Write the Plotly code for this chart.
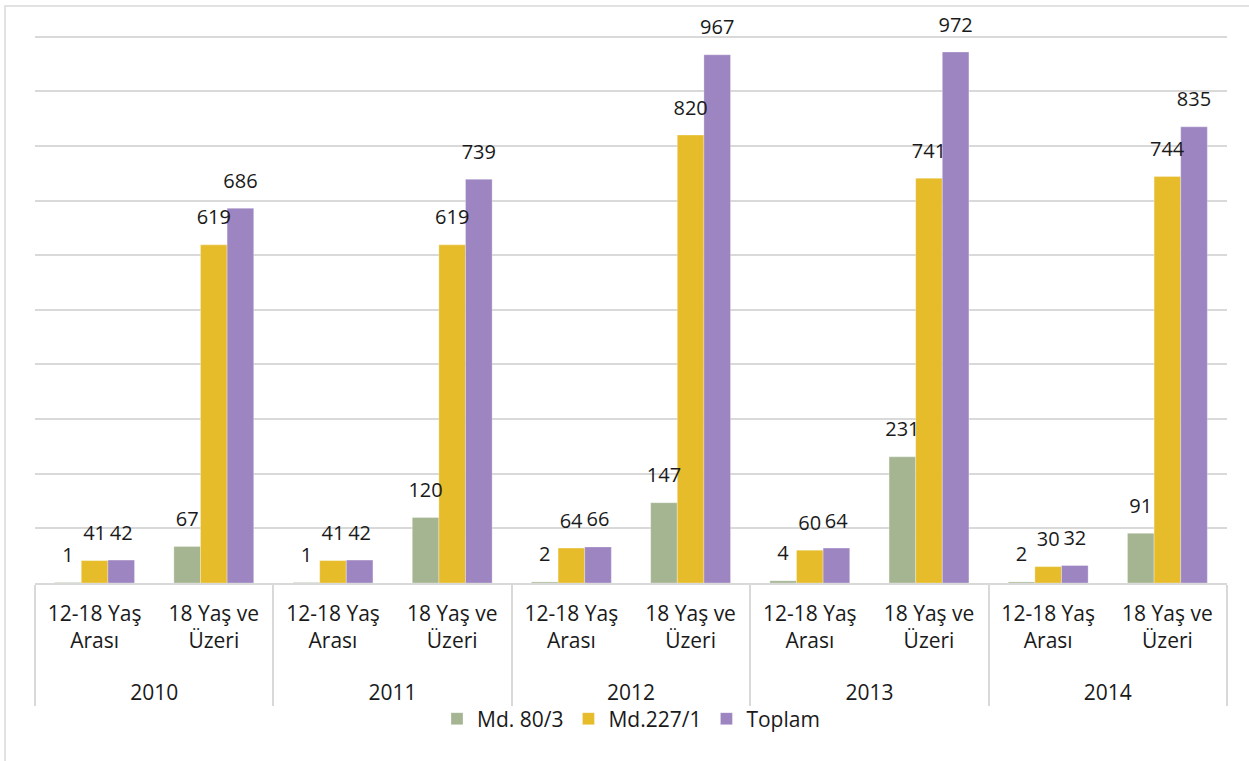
import plotly.graph_objects as go

years = ["2010", "2010", "2011", "2011", "2012", "2012", "2013", "2013", "2014", "2014"]
pad = "<br><span style='font-size:37px'>\u00a0</span>"
groups = ["12-18 Yaş<br>Arası" + pad, "18 Yaş ve<br>Üzeri" + pad] * 5
md80 = [1, 67, 1, 120, 2, 147, 4, 231, 2, 91]
md227 = [41, 619, 41, 619, 64, 820, 60, 741, 30, 744]
toplam = [42, 686, 42, 739, 66, 967, 64, 972, 32, 835]

series = [
    ("Md. 80/3", md80, "#A5B592"),
    ("Md.227/1", md227, "#E6BC2B"),
    ("Toplam", toplam, "#9C85C1"),
]

FONT = "Open Sans"
LABEL_GAP = 21  # data-unit gap between bar end and its value label

fig = go.Figure()
for i, (name, vals, col) in enumerate(series):
    fig.add_trace(go.Bar(
        x=[years, groups], y=vals, name=name, offsetgroup=str(i),
        marker=dict(color=col, line=dict(color="rgba(255,255,255,0.6)", width=0.5)),
    ))
for i, (name, vals, col) in enumerate(series):
    # transparent spacer bar carrying the value label above the real bar
    fig.add_trace(go.Bar(
        x=[years, groups], y=[LABEL_GAP] * len(vals), base=vals, offsetgroup=str(i),
        marker=dict(color="rgba(0,0,0,0)", line=dict(width=0)),
        text=[str(v) for v in vals], textposition="outside", cliponaxis=False,
        constraintext="none", showlegend=False, hoverinfo="skip",
        textfont=dict(family=FONT, size=20, color="#1a1a1a"),
    ))

L, R, T, B = 35, 22, 34, 178
W, H = 1249, 761
pw, ph = W - L - R, H - T - B

fig.update_layout(
    width=W, height=H,
    margin=dict(l=L, r=R, t=T, b=B, autoexpand=False),
    paper_bgcolor="white", plot_bgcolor="white",
    barmode="group", bargap=0.33, bargroupgap=0,
    font=dict(family=FONT, size=20, color="#1a1a1a"),
    showlegend=True,
    legend=dict(orientation="h", x=0.5, xanchor="center",
                y=(T + ph - 719) / ph, yanchor="middle",
                bgcolor="rgba(0,0,0,0)",
                font=dict(family=FONT, size=21), itemwidth=30,
                traceorder="normal"),
    xaxis=dict(type="multicategory", automargin=False, showline=True, linecolor="#d9d9d9", linewidth=1.5,
               showgrid=False, showdividers=True, dividercolor="#d9d9d9", dividerwidth=1.5,
               ticklabelstandoff=11,
               tickfont=dict(family=FONT, size=21, color="#1a1a1a"), ticks=""),
    yaxis=dict(range=[0, 1005], tickvals=list(range(0, 1001, 100)), showticklabels=False, showgrid=True,
               automargin=False,
               gridcolor="#d9d9d9", gridwidth=1.5, zeroline=False, showline=False, ticks=""),
    shapes=[dict(type="rect", xref="paper", yref="paper",
                 x0=(5 - L) / pw, x1=(1270 - L) / pw,
                 y0=(T + ph - 790) / ph, y1=1 + (T - 6) / ph,
                 line=dict(color="#d9d9d9", width=1.5), layer="below")],
)

fig.write_html("out.html", config={"displayModeBar": False},
               post_script="document.body.style.margin='0';document.body.style.overflow='hidden';")
